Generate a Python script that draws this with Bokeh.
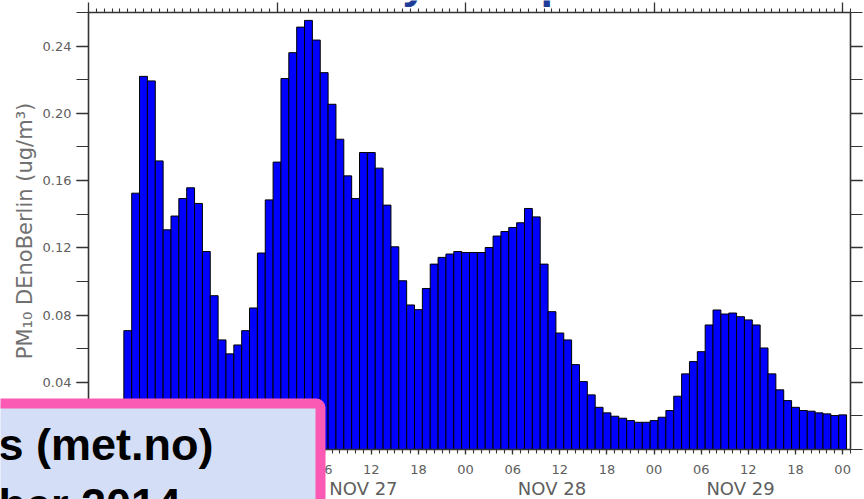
from bokeh.plotting import figure
from bokeh.models import Range1d, LinearAxis, FixedTicker, BoxAnnotation, Label
from bokeh.embed import file_html
from bokeh.resources import INLINE

# Hourly PM10 at DEnoBerlin (ug/m3), one value per hour starting 2014-11-26 05:00
first_hour = 5  # hours after 2014-11-26 00:00
pm10 = [
    0.0707, 0.1525, 0.2220, 0.2193, 0.1717, 0.1307, 0.1389, 0.1493, 0.1557, 0.1464,
    0.1178, 0.0915, 0.0652, 0.0569, 0.0622, 0.0707, 0.0842, 0.1169, 0.1485, 0.1710,
    0.2207, 0.2361, 0.2513, 0.2553, 0.2436, 0.2242, 0.2054, 0.1846, 0.1628, 0.1493,
    0.1767, 0.1767, 0.1674, 0.1454, 0.1206, 0.1004, 0.0860, 0.0832, 0.0958, 0.1103,
    0.1143, 0.1163, 0.1178, 0.1172, 0.1172, 0.1172, 0.1202, 0.1270, 0.1297, 0.1321,
    0.1349, 0.1434, 0.1384, 0.1103, 0.0820, 0.0693, 0.0652, 0.0505, 0.0404, 0.0325,
    0.0251, 0.0218, 0.0198, 0.0186, 0.0172, 0.0162, 0.0162, 0.0172, 0.0192, 0.0232,
    0.0317, 0.0450, 0.0523, 0.0582, 0.0741, 0.0830, 0.0806, 0.0812, 0.0790, 0.0771,
    0.0741, 0.0604, 0.0450, 0.0355, 0.0291, 0.0251, 0.0232, 0.0228, 0.0218, 0.0212,
    0.0202, 0.0206,
]
hours = [first_hour + i for i in range(len(pm10))]

# time axis: hours since 2014-11-26 00:00
x_start, x_end = 0, 97
hour_ticks = [0, 6, 12, 18, 24, 30, 36, 42, 48, 54, 60, 66, 72, 78, 84, 90, 96]
hour_tick_labels = ["00", "06", "12", "18", "00", "06", "12", "18", "00",
                    "06", "12", "18", "00", "06", "12", "18", "00"]
day_names = ["NOV 26", "NOV 27", "NOV 28", "NOV 29"]
day_label_hours = [11, 35, 59, 83]
midnights = [0, 24, 48, 72, 96]

# concentration axis
y_start, y_end = 0.0, 0.26
y_ticks = [0.04, 0.08, 0.12, 0.16, 0.20, 0.24]
y_tick_labels = ["0.04", "0.08", "0.12", "0.16", "0.20", "0.24"]
y_minor_ticks = [0.0, 0.02, 0.04, 0.06, 0.08, 0.10, 0.12, 0.14,
                 0.16, 0.18, 0.20, 0.22, 0.24, 0.26]

# page geometry: the plot box sits inside a full-page frame, margins in px
W, H = 864, 499
M_LEFT, M_RIGHT, M_TOP, M_BOTTOM = 88, 14, 12, 50
px_per_hour = (W - M_LEFT - M_RIGHT) / (x_end - x_start)
px_per_unit = (H - M_TOP - M_BOTTOM) / (y_end - y_start)
x_lo = x_start - M_LEFT / px_per_hour
x_hi = x_end + M_RIGHT / px_per_hour
y_lo = y_start - M_BOTTOM / px_per_unit
y_hi = y_end + M_TOP / px_per_unit


def sx_to_x(sx):
    return x_lo + sx / px_per_hour


def sy_to_y(sy):
    return y_hi - sy / px_per_unit


AXIS_COLOR = "#333333"
LABEL_COLOR = "#5e5e5e"
FONT = "DejaVu Sans"

p = figure(width=W, height=H, output_backend="svg", toolbar_location=None,
           x_range=Range1d(x_lo, x_hi), y_range=Range1d(y_lo, y_hi),
           x_axis_location=None, y_axis_location=None,
           min_border=0, min_border_left=0, min_border_right=0,
           min_border_top=0, min_border_bottom=0)
p.outline_line_color = None
p.background_fill_color = "white"
p.border_fill_color = "white"
p.xgrid.visible = False
p.ygrid.visible = False


def style_axis(ax, tick_out, minor_out, font_size="13px"):
    ax.axis_line_color = AXIS_COLOR
    ax.axis_line_width = 1.6
    ax.major_tick_line_color = AXIS_COLOR
    ax.minor_tick_line_color = AXIS_COLOR
    ax.major_tick_line_width = 1.3
    ax.minor_tick_line_width = 1.1
    ax.major_tick_in = 0
    ax.minor_tick_in = 0
    ax.major_tick_out = tick_out
    ax.minor_tick_out = minor_out
    ax.major_label_text_font = FONT
    ax.major_label_text_font_size = font_size
    ax.major_label_text_color = LABEL_COLOR


hour_minor = list(range(x_start, x_end + 1))

# bottom: hour of day
bottom = LinearAxis(ticker=FixedTicker(ticks=hour_ticks, minor_ticks=hour_minor),
                    major_label_overrides=dict(zip(hour_ticks, hour_tick_labels)),
                    fixed_location=y_start, bounds=(x_start, x_end))
style_axis(bottom, 5, 4)
bottom.major_label_standoff = 10
p.add_layout(bottom, "below")

# bottom: day names
days = LinearAxis(ticker=FixedTicker(ticks=day_label_hours, minor_ticks=[]),
                  major_label_overrides=dict(zip(day_label_hours, day_names)),
                  fixed_location=y_start, bounds=(x_start, x_end))
style_axis(days, 0, 0, "18px")
days.axis_line_color = None
days.major_tick_line_color = None
days.minor_tick_line_color = None
days.major_label_standoff = 28
p.add_layout(days, "below")

# top: hourly ticks, longer at midnight
top = LinearAxis(ticker=FixedTicker(ticks=midnights, minor_ticks=hour_minor),
                 major_label_overrides={m: "" for m in midnights},
                 fixed_location=y_end, bounds=(x_start, x_end))
style_axis(top, 10, 4, "0px")
top.major_label_standoff = 0
p.add_layout(top, "above")

# left: concentration
left = LinearAxis(ticker=FixedTicker(ticks=y_ticks, minor_ticks=y_minor_ticks),
                  major_label_overrides=dict(zip(y_ticks, y_tick_labels)),
                  axis_label="PM\u2081\u2080 DEnoBerlin (ug/m\u00b3)",
                  fixed_location=x_start, bounds=(y_start, y_end))
style_axis(left, 12, 12)
left.major_label_standoff = 5
left.axis_label_text_font = FONT
left.axis_label_text_font_size = "21px"
left.axis_label_text_font_style = "normal"
left.axis_label_text_color = "#707070"
left.axis_label_standoff = 3
p.add_layout(left, "left")

# right: mirrored ticks
right = LinearAxis(ticker=FixedTicker(ticks=y_ticks, minor_ticks=y_minor_ticks),
                   major_label_overrides={t: "" for t in y_ticks},
                   fixed_location=x_end, bounds=(y_start, y_end))
style_axis(right, 12, 12, "0px")
right.major_label_standoff = 0
p.add_layout(right, "right")

# hourly bars
p.vbar(x=hours, top=pm10, width=1.0, bottom=0,
       fill_color="#0000ff", line_color="#000000", line_width=1)

# Label draws "alphabetic" text this many px below the requested point
BASELINE_SHIFT = 14

# slide title running along the top edge
TITLE_COLOR = "#1f3c96"
for ch, sx in (("y", 402), ("p", 540)):
    p.add_layout(Label(x=sx_to_x(sx), y=sy_to_y(-4 - BASELINE_SHIFT), text=ch,
                       text_font="Liberation Sans", text_font_style="bold",
                       text_font_size="45px", text_color=TITLE_COLOR,
                       text_align="left", text_baseline="alphabetic",
                       level="overlay"))

# caption box in the lower left corner
p.add_layout(BoxAnnotation(left=sx_to_x(-60), right=sx_to_x(320),
                           top=sy_to_y(403), bottom=sy_to_y(600),
                           fill_color="#d4def6", fill_alpha=1.0,
                           line_color="#fa5ab4", line_width=10, line_alpha=1.0,
                           border_radius=4, level="overlay"))
for txt, base in (("s (met.no)", 458), ("ber 2014", 518)):
    p.add_layout(Label(x=sx_to_x(-2), y=sy_to_y(base - BASELINE_SHIFT), text=txt,
                       text_font="Liberation Sans", text_font_style="bold",
                       text_font_size="45px", text_color="#000000",
                       text_align="left", text_baseline="alphabetic",
                       level="overlay"))

open("out.html", "w").write(file_html(p, INLINE))
